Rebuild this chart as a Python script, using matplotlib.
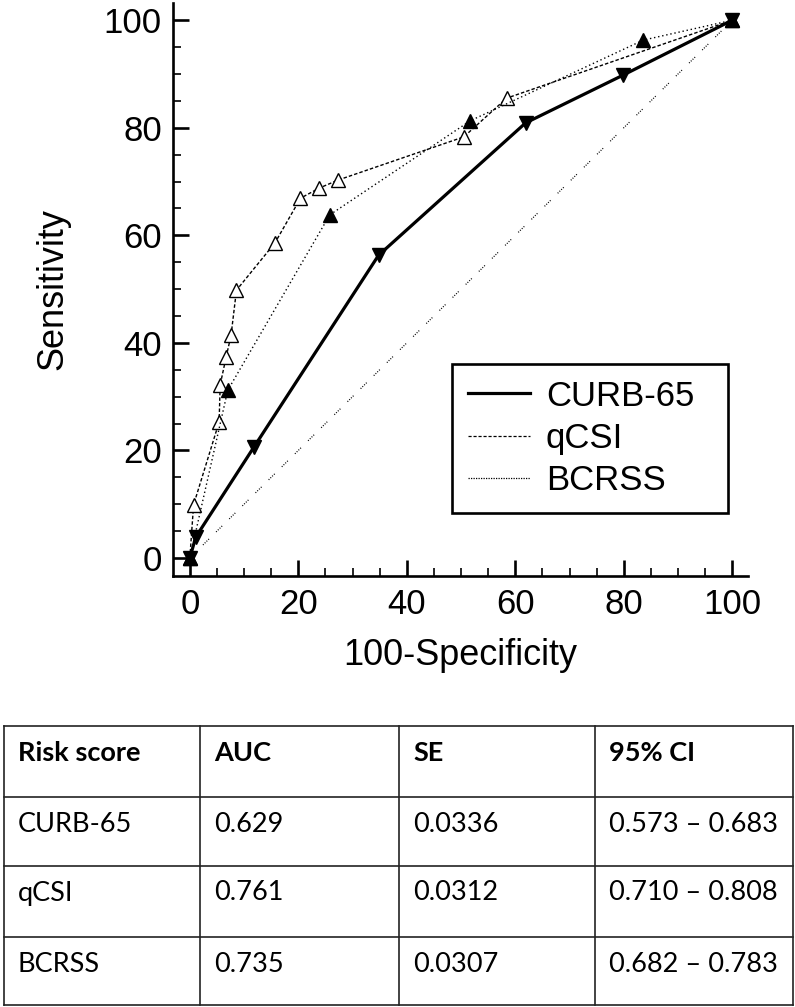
import matplotlib
matplotlib.use("Agg")
import matplotlib.pyplot as plt
from matplotlib.lines import Line2D
from matplotlib.ticker import MultipleLocator, AutoMinorLocator

# ---------------- data ----------------
curb_x = [0, 1.1, 11.8, 34.8, 61.9, 79.9, 100]
curb_y = [0, 3.9, 20.6, 56.3, 80.9, 89.8, 100]

qcsi_x = [0, 0.7, 5.4, 5.6, 6.7, 7.6, 8.6, 15.7, 20.4, 23.9, 27.4, 50.5, 58.4, 100]
qcsi_y = [0, 9.9, 25.3, 32.2, 37.4, 41.4, 49.8, 58.6, 66.9, 68.8, 70.3, 78.3, 85.5, 100]

bcrss_x = [0, 7.0, 25.8, 51.7, 83.6, 100]
bcrss_y = [0, 31.2, 63.8, 81.3, 96.3, 100]

diag = [0, 100]

series_names = ["CURB-65", "qCSI", "BCRSS"]
x_ticks = [0, 20, 40, 60, 80, 100]
y_ticks = [0, 20, 40, 60, 80, 100]

table_header = ["Risk score", "AUC", "SE", "95% CI"]
auc = [0.629, 0.761, 0.735]
se = [0.0336, 0.0312, 0.0307]
ci_low = [0.573, 0.710, 0.682]
ci_high = [0.683, 0.808, 0.783]

# ---------------- figure ----------------
W, H = 795, 1007
fig = plt.figure(figsize=(W / 100, H / 100), dpi=100)
plt.rcParams['font.family'] = ['Liberation Sans', 'DejaVu Sans']

ax = fig.add_axes([173 / W, 1 - 576 / H, (748 - 173) / W, (576 - 3) / H])
ax.set_xlim(-3.1, 102.9)
ax.set_ylim(-3.35, 103.2)

for s in ["top", "right"]:
    ax.spines[s].set_visible(False)
for s in ["left", "bottom"]:
    ax.spines[s].set_linewidth(1.9)

ax.xaxis.set_major_locator(MultipleLocator(20))
ax.yaxis.set_major_locator(MultipleLocator(20))
ax.xaxis.set_minor_locator(AutoMinorLocator(4))
ax.yaxis.set_minor_locator(AutoMinorLocator(4))
ax.set_xticks(x_ticks)
ax.set_yticks(y_ticks)
ax.tick_params(which="major", direction="in", length=11.5, width=1.9, labelsize=25, pad=8)
ax.tick_params(axis="x", which="major", pad=9)
ax.tick_params(which="minor", direction="in", length=6, width=1.2)

# reference diagonal
ax.plot(diag, diag, color="black", lw=0.9,
        linestyle=(0, (0.8, 1.2, 0.8, 1.2, 0.8, 1.2, 0.8, 8)), zorder=1)

ax.plot(qcsi_x, qcsi_y, color="black", lw=1.0, linestyle=(0, (2.5, 1.5)),
        marker="^", markersize=9.5, markerfacecolor="white",
        markeredgecolor="black", markeredgewidth=1.0, zorder=2)
ax.plot(bcrss_x, bcrss_y, color="black", lw=1.0, linestyle=(0, (1, 2)),
        marker="^", markersize=9.5, markerfacecolor="black",
        markeredgecolor="black", zorder=3)
ax.plot(curb_x, curb_y, color="black", lw=2.3, linestyle="-",
        marker="v", markersize=9.5, markerfacecolor="black",
        markeredgecolor="black", zorder=4)

ax.set_xlabel("100-Specificity", fontsize=26, labelpad=12)
ax.set_ylabel("Sensitivity", fontsize=26, labelpad=24)

handles = [
    Line2D([], [], color="black", lw=2.3, linestyle="-"),
    Line2D([], [], color="black", lw=0.9, linestyle=(0, (2.5, 1.5))),
    Line2D([], [], color="black", lw=0.9, linestyle=(0, (1, 1))),
]
leg = ax.legend(handles, series_names, loc="upper left",
                bbox_to_anchor=(452 / W, 1 - 515 / H, 276 / W, 151 / H),
                bbox_transform=fig.transFigure, mode="expand",
                borderaxespad=0, fontsize=25, frameon=True, fancybox=False,
                framealpha=1, edgecolor="black", handlelength=1.8,
                handletextpad=0.45, labelspacing=0.27, borderpad=0.45)
leg.get_frame().set_linewidth(1.9)

# ---------------- table ----------------
tax = fig.add_axes([0, 0, 1, 1])
tax.set_xlim(0, W)
tax.set_ylim(H, 0)
tax.axis("off")

col_edges = [4, 200, 399, 595, 793]
row_edges = [726, 797, 866, 937, 1005]
line_kw = dict(color="#222222", lw=1.2)
for xe in col_edges:
    tax.plot([xe, xe], [row_edges[0], row_edges[-1]], **line_kw)
for ye in row_edges:
    tax.plot([col_edges[0], col_edges[-1]], [ye, ye], **line_kw)

rows = [table_header]
for i, name in enumerate(series_names):
    rows.append([name, f"{auc[i]:.3f}", f"{se[i]:.4f}",
                 f"{ci_low[i]:.3f} \u2013 {ci_high[i]:.3f}"])

tfont = ['Lato', 'DejaVu Sans']
for r, row in enumerate(rows):
    for c, txt in enumerate(row):
        tax.text(col_edges[c] + 14, row_edges[r] + 27, txt,
                 fontsize=19.5, family=tfont, va="center", ha="left",
                 fontweight="bold" if r == 0 else "normal", color="black")

fig.savefig("out.png", dpi=100)
